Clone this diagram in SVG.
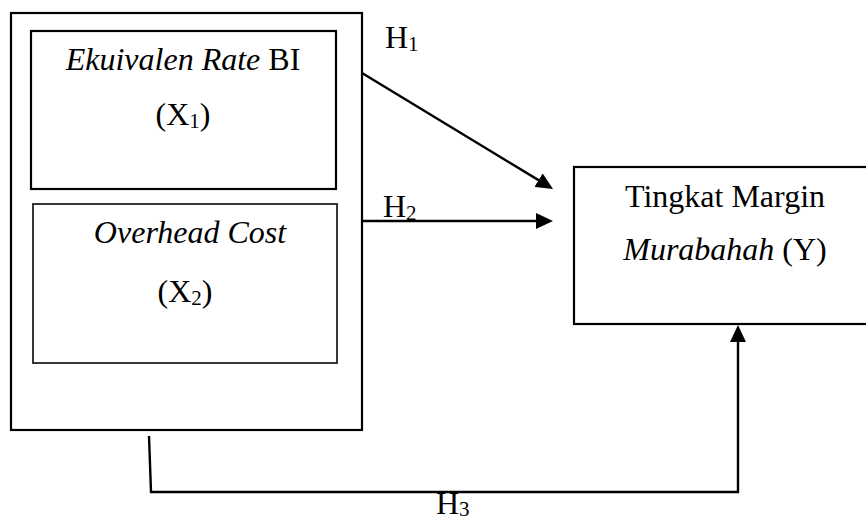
<svg xmlns="http://www.w3.org/2000/svg" width="866" height="522" viewBox="0 0 866 522">
  <style>
    .box { fill: #ffffff; stroke: #000000; stroke-width: 2.2; }
    .box-thin { fill: #ffffff; stroke: #222222; stroke-width: 1.8; }
    .lbl { font-family: "Liberation Serif", "Times New Roman", serif; font-size: 32px; fill: #000000; }
    .mid { text-anchor: middle; }
    .it { font-style: italic; }
    .sub { font-size: 21px; }
    .wire { fill: none; stroke: #000000; stroke-width: 2.4; }
  </style>
  <defs>
    <marker id="arrow" markerUnits="userSpaceOnUse" markerWidth="17" markerHeight="16" refX="13" refY="8" orient="auto">
      <path d="M0,0 L17,8 L0,16 z" fill="#000000"/>
    </marker>
  </defs>

  <!-- independent variables grouped together -->
  <g id="group-x">
    <rect class="box" x="11" y="13" width="351" height="417"/>
  </g>

  <g id="node-x1">
    <rect class="box" x="31" y="31" width="305" height="158"/>
    <text class="lbl mid" x="183" y="70"><tspan class="it">Ekuivalen Rate</tspan> BI</text>
    <text class="lbl mid" x="183" y="125">(X<tspan class="sub" dy="3">1</tspan><tspan dy="-3">)</tspan></text>
  </g>

  <g id="node-x2">
    <rect class="box-thin" x="33" y="204" width="304" height="159"/>
    <text class="lbl mid it" x="190" y="243">Overhead Cost</text>
    <text class="lbl mid" x="185" y="302">(X<tspan class="sub" dy="3">2</tspan><tspan dy="-3">)</tspan></text>
  </g>

  <!-- dependent variable -->
  <g id="node-y">
    <rect class="box" x="574" y="167" width="300" height="157"/>
    <text class="lbl mid" x="725" y="207">Tingkat Margin</text>
    <text class="lbl mid" x="725" y="260"><tspan class="it">Murabahah</tspan> (Y)</text>
  </g>

  <!-- hypothesis paths -->
  <g id="connectors">
    <line class="wire" x1="362" y1="73" x2="549.6" y2="186.9" marker-end="url(#arrow)"/>
    <line class="wire" x1="362" y1="221" x2="549" y2="221" marker-end="url(#arrow)"/>
    <path class="wire" d="M149,436 L151,492 L738,492 L738,329" marker-end="url(#arrow)"/>
    <text class="lbl" x="385" y="48">H<tspan class="sub" dy="3">1</tspan></text>
    <text class="lbl" x="383" y="217">H<tspan class="sub" dy="3">2</tspan></text>
    <text class="lbl" x="436" y="514">H<tspan class="sub" dy="2">3</tspan></text>
  </g>
</svg>
